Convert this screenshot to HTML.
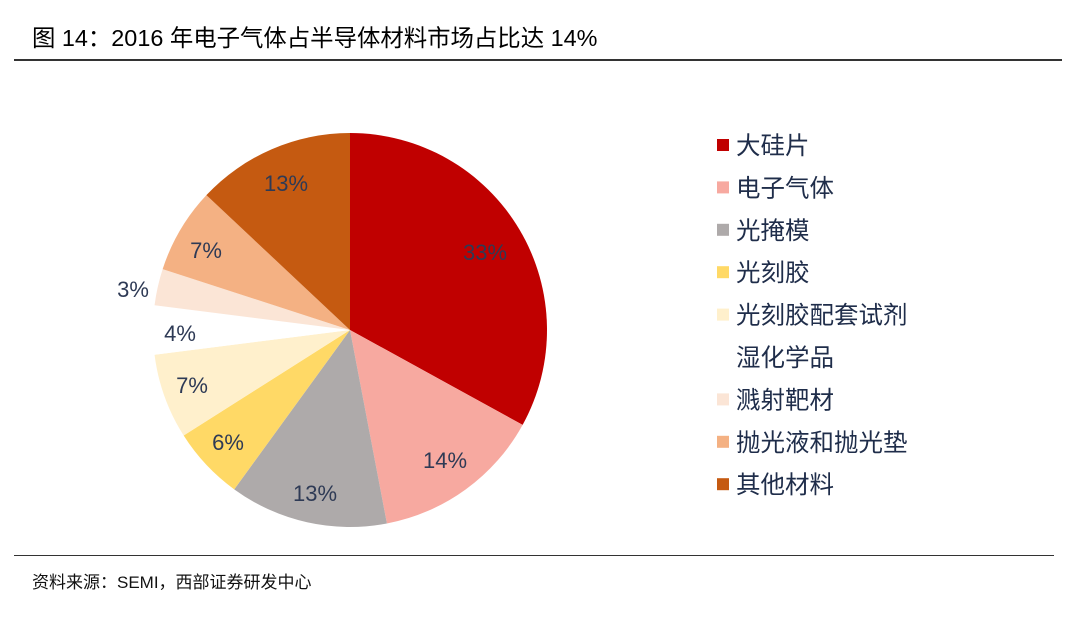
<!DOCTYPE html><html><head><meta charset="utf-8"><style>
body{margin:0;width:1078px;height:624px;background:#fff;font-family:"Liberation Sans","Noto Sans CJK SC",sans-serif;position:relative;overflow:hidden}
.t{position:absolute;white-space:nowrap}
</style></head><body>
<div class="t" style="left:32px;top:19px;font-size:23.4px;color:#000">图 14：2016 年电子气体占半导体材料市场占比达 14%</div>
<div style="position:absolute;left:14px;top:59px;width:1048px;height:1.5px;background:#333"></div>
<div style="position:absolute;left:14px;top:555px;width:1040px;height:1px;background:#333"></div>
<div class="t" style="left:32px;top:568px;font-size:17px;color:#111">资料来源：SEMI，西部证券研发中心</div>
<svg id="s" width="1078" height="624" style="position:absolute;left:0;top:0"></svg>
<script>
var d=[[33,"#c00000"],[14,"#f7a9a0"],[13,"#aeaaaa"],[6,"#ffd966"],[7,"#fff0cc"],[4,"#ffffff"],[3,"#fbe5d6"],[7,"#f4b183"],[13,"#c55a11"]];
var cx=350,cy=330,r=197,a=0,h="";
d.forEach(function(e){var a1=a+e[0]/100*2*Math.PI;
var x0=cx+r*Math.sin(a),y0=cy-r*Math.cos(a),x1=cx+r*Math.sin(a1),y1=cy-r*Math.cos(a1);
h+='<path d="M'+cx+','+cy+'L'+x0+','+y0+'A'+r+','+r+' 0 '+(a1-a>Math.PI?1:0)+' 1 '+x1+','+y1+'Z" fill="'+e[1]+'"/>';a=a1;});
var L=[["33%",485,252],["14%",445,460],["13%",315,493],["6%",228,442],["7%",192,385],["4%",180,333],["3%",133,289],["7%",206,250],["13%",286,183]];
L.forEach(function(l){h+='<text x="'+l[1]+'" y="'+(l[2]+8)+'" font-size="22" fill="#2e3a55" text-anchor="middle" font-family="Liberation Sans,sans-serif">'+l[0]+'</text>';});
var lg=[["#c00000","大硅片"],["#f7a9a0","电子气体"],["#aeaaaa","光掩模"],["#ffd966","光刻胶"],["#fff0cc","光刻胶配套试剂"],[null,"湿化学品"],["#fbe5d6","溅射靶材"],["#f4b183","抛光液和抛光垫"],["#c55a11","其他材料"]];
lg.forEach(function(g,i){var y=145+i*42.4;if(g[0])h+='<rect x="717" y="'+(y-6)+'" width="12" height="12" fill="'+g[0]+'"/>';
h+='<text x="736" y="'+(y+9)+'" font-size="24.5" fill="#1f2d4a" font-family="Liberation Sans,Noto Sans CJK SC,sans-serif">'+g[1]+'</text>';});
document.getElementById("s").innerHTML=h;
</script>
</body></html>
